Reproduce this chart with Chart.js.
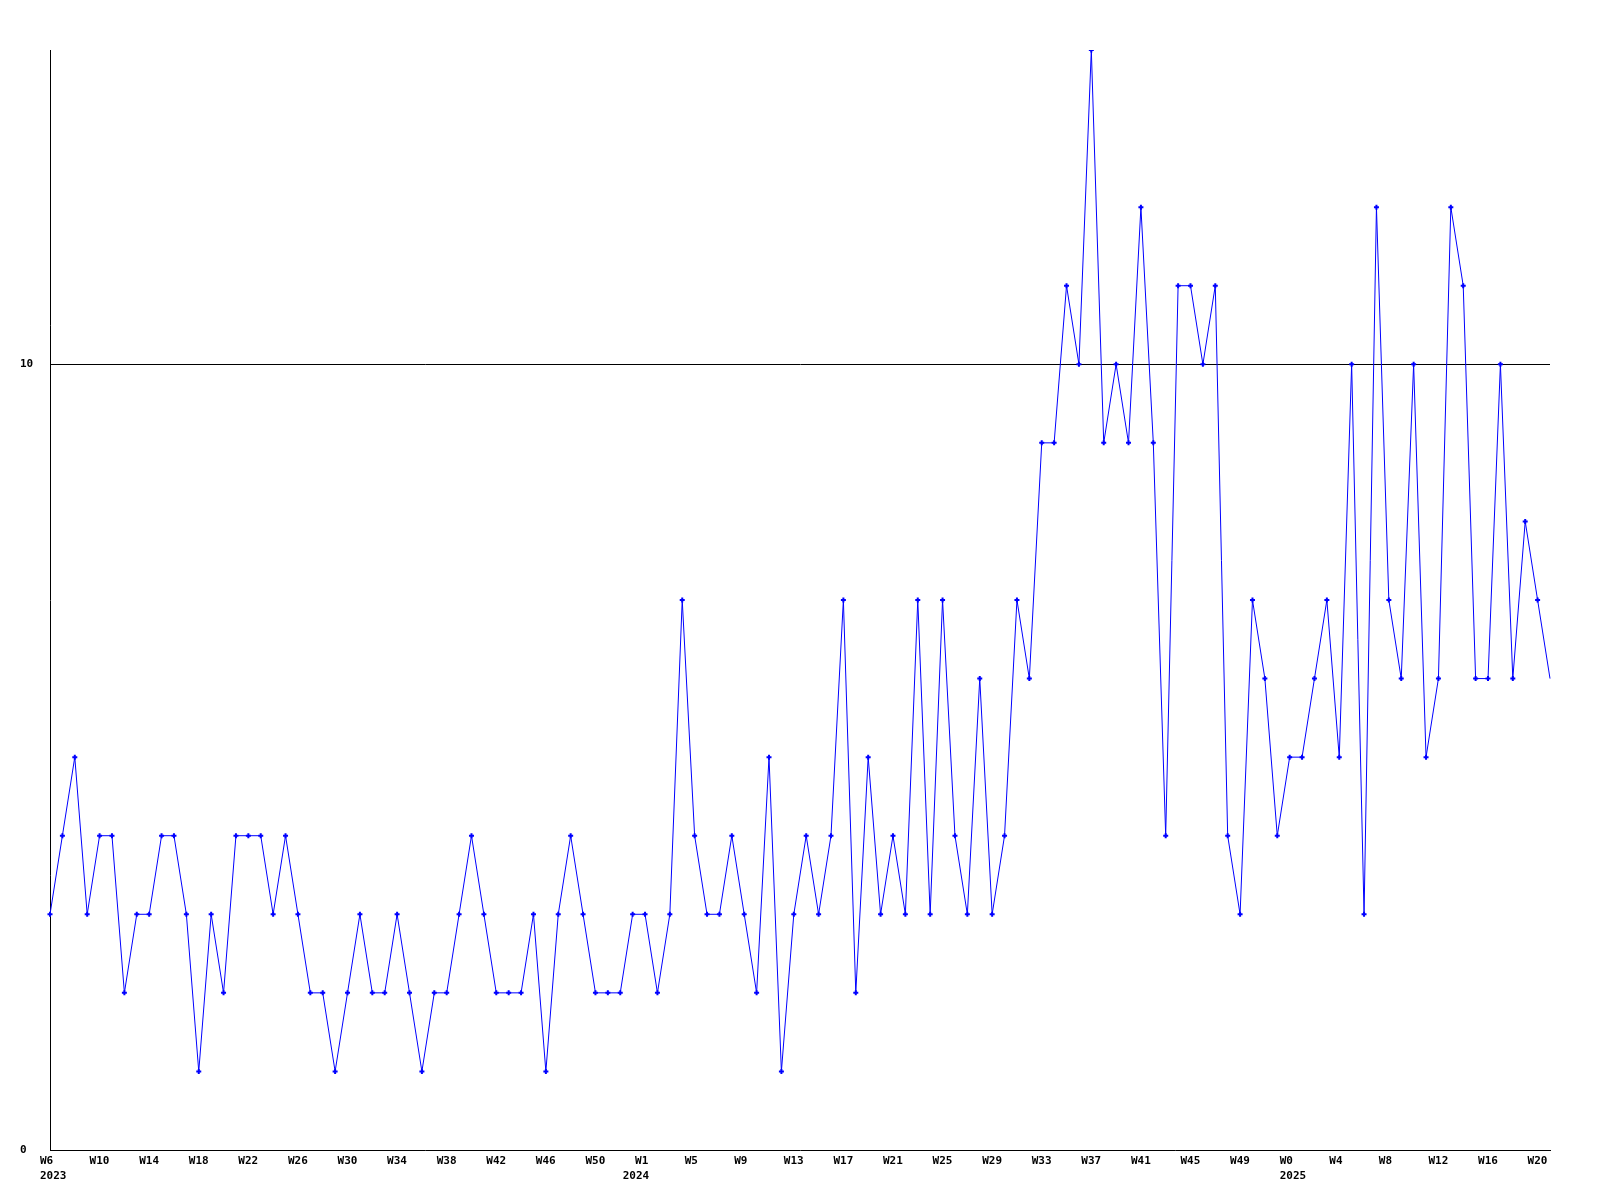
<!DOCTYPE html>
<html>
<head>
<meta charset="utf-8">
<script src="https://cdn.jsdelivr.net/npm/chart.js@4"></script>
<style>
  html, body { margin: 0; padding: 0; background: #fff; }
  canvas { display: block; }
</style>
</head>
<body>
<canvas id="grafico" width="1600" height="1200"></canvas>
<script>
// ==================== DATOS ====================
var anios = ['2023', '2024', '2025'];
var semanaDesde = [6, 0, 0];
var semanaHasta = [52, 52, 21];

var valores = [
  3, 4, 5, 3, 4, 4, 2, 3, 3, 4,
  4, 3, 1, 3, 2, 4, 4, 4, 3, 4,
  3, 2, 2, 1, 2, 3, 2, 2, 3, 2,
  1, 2, 2, 3, 4, 3, 2, 2, 2, 3,
  1, 3, 4, 3, 2, 2, 2, 3, 3, 2,
  3, 7, 4, 3, 3, 4, 3, 2, 5, 1,
  3, 4, 3, 4, 7, 2, 5, 3, 4, 3,
  7, 3, 7, 4, 3, 6, 3, 4, 7, 6,
  9, 9, 11, 10, 14, 9, 10, 9, 12, 9,
  4, 11, 11, 10, 11, 4, 3, 7, 6, 4,
  5, 5, 6, 7, 5, 10, 3, 12, 7, 6,
  10, 5, 6, 12, 11, 6, 6, 10, 6, 8,
  7, 6
];

var marcasY = [0, 10];
var lineaRef = 10;
var pasoEtiquetas = 4;

// Semanas (categorias) y primer indice de cada anio
var semanas = [];
var inicioAnio = {};
for (var a = 0; a < anios.length; a++) {
  inicioAnio[semanas.length] = anios[a];
  for (var w = semanaDesde[a]; w <= semanaHasta[a]; w++) {
    semanas.push('W' + w);
  }
}

// ==================== CHART ====================
Chart.defaults.font.family = "'DejaVu Sans Mono', monospace";
Chart.defaults.font.size = 11;
Chart.defaults.font.weight = 'bold';
Chart.defaults.color = '#000';

var ultimo = valores.length - 1;

var grafico = new Chart(document.getElementById('grafico').getContext('2d'), {
  type: 'line',
  data: {
    labels: semanas,
    datasets: [{
      data: valores,
      borderColor: '#0000ff',
      borderWidth: 1,
      tension: 0,
      fill: false,
      pointStyle: 'cross',
      pointRadius: function (ctx) { return ctx.dataIndex === ultimo ? 0 : 2.5; },
      pointBorderColor: '#0000ff',
      pointBorderWidth: 2
    }]
  },
  options: {
    responsive: false,
    animation: false,
    devicePixelRatio: 1,
    events: [],
    layout: { padding: { left: 20, top: 50, right: 50, bottom: 0 } },
    plugins: {
      legend: { display: false },
      tooltip: { enabled: false }
    },
    scales: {
      x: {
        grid: { display: false, drawTicks: false },
        border: { display: true, color: '#000', width: 1 },
        // una marca cada 4 semanas, mas el inicio de cada anio
        afterBuildTicks: function (s) {
          s.ticks = s.ticks.filter(function (t) {
            return t.value % pasoEtiquetas === 0 || inicioAnio[t.value] !== undefined;
          });
        },
        afterFit: function (s) { s.height = 50; },
        ticks: {
          autoSkip: false,
          maxRotation: 0,
          minRotation: 0,
          align: 'start',
          labelOffset: -10,
          padding: 4,
          font: { lineHeight: '15px' },
          callback: function (v) {
            var lbl = v % pasoEtiquetas === 0 ? semanas[v] : '';
            if (inicioAnio[v] !== undefined) return [lbl, inicioAnio[v]];
            return lbl;
          }
        }
      },
      y: {
        min: 0,
        max: 14,
        afterBuildTicks: function (s) {
          s.ticks = marcasY.map(function (v) { return { value: v }; });
        },
        afterFit: function (s) { s.width = 30; },
        grid: {
          drawTicks: false,
          color: function (ctx) {
            return ctx.tick && ctx.tick.value === lineaRef ? '#000' : 'rgba(0,0,0,0)';
          }
        },
        border: { display: true, color: '#000', width: 1 },
        ticks: { crossAlign: 'far', padding: 0 }
      }
    }
  }
});
</script>
</body>
</html>
